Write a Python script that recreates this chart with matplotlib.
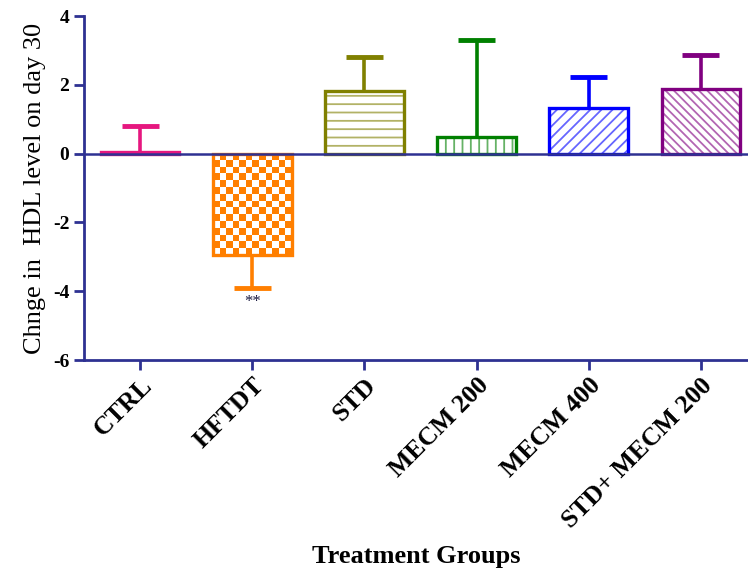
import matplotlib
matplotlib.use('Agg')
import matplotlib.pyplot as plt
from matplotlib.colors import ListedColormap
import numpy as np

groups = ["CTRL", "HFTDT", "STD", "MECM 200", "MECM 400", "STD+ MECM 200"]
means = [0.05, -2.94, 1.83, 0.49, 1.34, 1.89]
errs = [0.76, 0.98, 0.99, 2.82, 0.90, 0.99]
colors = ["#E6177F", "#FF7F00", "#808000", "#008000", "#0000FF", "#800080"]
hatches = [None, None, "--", "||", "///", "\\\\\\\\"]
axis_col = "#2E3192"

plt.rcParams['font.family'] = ['Liberation Serif', 'DejaVu Serif']
plt.rcParams['hatch.linewidth'] = 1.3
plt.rcParams['axes.unicode_minus'] = False

fig = plt.figure(figsize=(7.48, 5.72), dpi=100)
ax = fig.add_axes([0.1123, 0.3706, 0.8877, 0.6014])

x = np.arange(len(groups))
w = 0.7
cap_w = 0.33

# hatch layer (lighter), then solid outline on top
for i in range(len(groups)):
    if hatches[i]:
        ax.bar(x[i], means[i], w, color="white", edgecolor=colors[i], hatch=hatches[i],
               linewidth=0, alpha=0.6, zorder=2)

# checkerboard fill for HFTDT
i = 1
nx, ny = 12, 15
board = (np.add.outer(np.arange(ny), np.arange(nx)) % 2).astype(float)
cmap = ListedColormap(["white", colors[i]])
im = ax.imshow(board, cmap=cmap, extent=(x[i] - w / 2, x[i] + w / 2, means[i], 0),
               aspect='auto', interpolation='nearest', zorder=2)

outline = ax.bar(x, means, w, fill=False, edgecolor=colors, linewidth=2.4, zorder=3)
im.set_clip_path(outline[i])

# one-sided error bars
for i in range(len(groups)):
    end = means[i] + errs[i] if means[i] >= 0 else means[i] - errs[i]
    ax.vlines(x[i], means[i], end, color=colors[i], linewidth=2.6, zorder=2.5)
    ax.hlines(end, x[i] - cap_w / 2, x[i] + cap_w / 2, color=colors[i], linewidth=3.5, zorder=2.5)

ax.axhline(0, color=axis_col, linewidth=1.8, zorder=4)
ax.text(x[1], means[1] - errs[1] - 0.15, "**", ha='center', va='top', fontsize=12, color="#1a1a40")

ax.set_xlim(-0.5, 5.42)
ax.set_ylim(-6, 4)
ax.set_yticks([-6, -4, -2, 0, 2, 4])
ax.set_xticks(x)
ax.set_xticklabels(groups, rotation=45, ha='right', rotation_mode='anchor',
                   fontsize=18.5, fontweight='bold')
for lab in ax.get_yticklabels():
    lab.set_fontweight('bold')
    lab.set_fontsize(14)

for s in ['top', 'right']:
    ax.spines[s].set_visible(False)
for s in ['left', 'bottom']:
    ax.spines[s].set_color(axis_col)
    ax.spines[s].set_linewidth(2)
ax.tick_params(colors=axis_col, width=2, length=7, labelcolor='black')
ax.tick_params(axis='x', pad=3)

ax.set_ylabel("Chnge in  HDL level on day 30", fontsize=19, labelpad=5)
ax.set_xlabel("Treatment Groups", fontsize=19, fontweight='bold', labelpad=9)

plt.savefig("out.png", dpi=100)
